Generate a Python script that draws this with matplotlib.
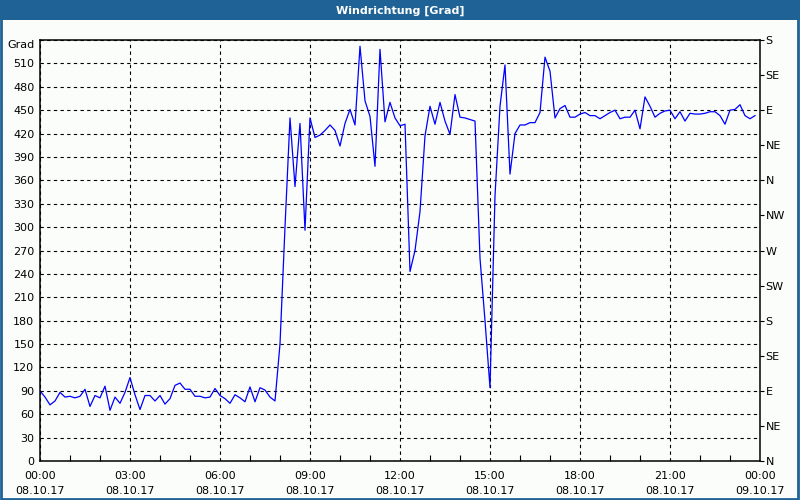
import numpy as np
import matplotlib
matplotlib.use("Agg")
import matplotlib.pyplot as plt
from matplotlib.patches import Rectangle

# wind direction in degrees, one value every 10 minutes from 08.10.17 00:00
richtung = [
    90, 82, 72, 77, 88, 82, 83, 81, 83, 92, 70, 84,
    81, 96, 65, 82, 74, 88, 107, 85, 66, 84, 84, 77,
    84, 73, 80, 97, 100, 92, 92, 83, 83, 81, 82, 93,
    84, 80, 74, 85, 81, 76, 95, 76, 94, 91, 82, 77,
    150, 300, 440, 352, 433, 296, 440, 415, 418, 424,
    431, 424, 404, 433, 451, 431, 532, 462, 442, 378,
    528, 435, 460, 440, 430, 432, 243, 270, 320, 417,
    455, 432, 460, 436, 419, 470, 441, 440, 438, 436,
    260, 180, 94, 340, 455, 508, 368, 420, 431, 431,
    434, 434, 447, 518, 500, 440, 452, 456, 441, 441,
    445, 447, 443, 443, 439, 443, 447, 450, 439, 441,
    441, 450, 426, 467, 455, 441, 446, 449, 450, 439,
    448, 436, 446, 445, 445, 446, 448, 448, 443, 432,
    450, 451, 457, 443, 439, 443,
]
stunden = np.arange(len(richtung)) / 6.0

y_ticks = list(range(0, 541, 30))
y_labels = [str(v) for v in y_ticks[:-1]] + ["Grad"]
kompass_ticks = list(range(0, 541, 45))
kompass = ["N", "NE", "E", "SE", "S", "SW", "W", "NW", "N", "NE", "E", "SE", "S"]
x_ticks = list(range(0, 25, 3))
x_labels = ["00:00\n08.10.17", "03:00\n08.10.17", "06:00\n08.10.17",
            "09:00\n08.10.17", "12:00\n08.10.17", "15:00\n08.10.17",
            "18:00\n08.10.17", "21:00\n08.10.17", "00:00\n09.10.17"]

blau = "#1f6396"
plt.rcParams['font.family'] = ['DejaVu Sans']
fig = plt.figure(figsize=(8, 5), dpi=100, facecolor="#fbfdfb")

# title bar and outer frame
fig.patches.append(Rectangle((0, 0.96), 1, 0.04, transform=fig.transFigure,
                             facecolor=blau, edgecolor="none", zorder=0))
fig.patches.append(Rectangle((0.001, 0.002), 0.997, 0.996, transform=fig.transFigure,
                             facecolor="none", edgecolor=blau, lw=2, zorder=5))
fig.text(0.5, 0.979, "Windrichtung [Grad]", color="white", fontsize=8,
         fontweight="bold", ha="center", va="center")

ax = fig.add_axes([0.05, 0.078, 0.9, 0.842])
ax.set_facecolor("#fbfdfb")
ax.plot(stunden, richtung, color="#0000ff", lw=0.9)

ax.set_xlim(0, 24)
ax.set_ylim(0, 540)
ax.set_yticks(y_ticks)
ax.set_yticklabels(y_labels, fontsize=8)
ax.get_yticklabels()[-1].set_va("top")
ax.set_xticks(x_ticks)
ax.set_xticklabels(x_labels, fontsize=8, linespacing=1.7)
ax.set_xticks(range(25), minor=True)
ax.tick_params(axis="x", which="minor", direction="in", length=4, width=0.8)
ax.tick_params(axis="x", which="major", length=0, pad=7)
ax.tick_params(axis="y", length=0, pad=4)
ax.grid(True, which="major", color="black", linestyle=(0, (3, 3)), lw=0.8)
for s in ax.spines.values():
    s.set_color("black")
    s.set_linewidth(1.1)

ax2 = ax.twinx()
ax2.set_ylim(0, 540)
ax2.set_yticks(kompass_ticks)
ax2.set_yticklabels(kompass, fontsize=8)
ax2.tick_params(axis="y", length=3, width=0.8, pad=1)
for s in ax2.spines.values():
    s.set_visible(False)

fig.savefig("out.png", dpi=100, facecolor=fig.get_facecolor())
